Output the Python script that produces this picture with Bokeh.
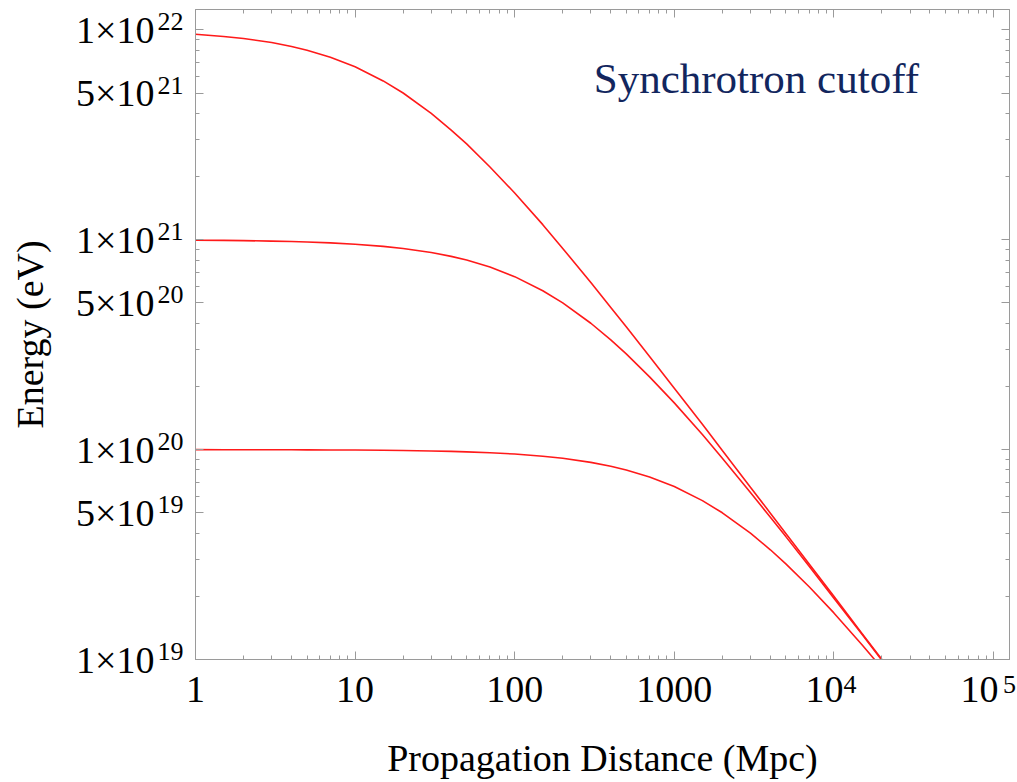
import math
from bokeh.plotting import figure
from bokeh.models import (FixedTicker, CustomJSTickFormatter, LogAxis, Label,
                          Range1d, LogScale)
from bokeh.embed import file_html
from bokeh.resources import INLINE

# ---- data ----
distance_mpc = [1.0, 1.5, 2.0, 3.0, 4.0, 5.0, 7.0, 10.0, 15.0, 20.0, 30.0,
                40.0, 50.0, 70.0, 100.0, 150.0, 200.0, 300.0, 400.0, 500.0,
                700.0, 1000.0, 1500.0, 2000.0, 3000.0, 4000.0, 5000.0, 7000.0,
                10000.0, 15000.0, 20000.0]

energy_e22 = [9.52e21, 9.30e21, 9.09e21, 8.70e21, 8.33e21, 8.00e21, 7.41e21,
              6.67e21, 5.71e21, 5.00e21, 4.00e21, 3.33e21, 2.86e21, 2.22e21,
              1.67e21, 1.18e21, 9.09e20, 6.25e20, 4.76e20, 3.85e20, 2.78e20,
              1.96e20, 1.32e20, 9.90e19, 6.62e19, 4.98e19, 3.98e19, 2.85e19,
              2.00e19, 1.33e19, 1.00e19]

energy_e21 = [9.95e20, 9.93e20, 9.90e20, 9.85e20, 9.80e20, 9.76e20, 9.66e20,
              9.52e20, 9.30e20, 9.09e20, 8.70e20, 8.33e20, 8.00e20, 7.41e20,
              6.67e20, 5.71e20, 5.00e20, 4.00e20, 3.33e20, 2.86e20, 2.22e20,
              1.67e20, 1.18e20, 9.09e19, 6.25e19, 4.76e19, 3.85e19, 2.78e19,
              1.96e19, 1.32e19, 9.90e18]

energy_e20 = [9.995e19, 9.993e19, 9.990e19, 9.985e19, 9.980e19, 9.975e19,
              9.965e19, 9.950e19, 9.926e19, 9.901e19, 9.852e19, 9.804e19,
              9.756e19, 9.662e19, 9.524e19, 9.302e19, 9.091e19, 8.696e19,
              8.333e19, 8.000e19, 7.407e19, 6.667e19, 5.714e19, 5.000e19,
              4.000e19, 3.333e19, 2.857e19, 2.222e19, 1.667e19, 1.176e19,
              9.09e18]

x_major_ticks = [1.0, 10.0, 100.0, 1000.0, 1e4, 1e5]
x_power_ticks = [1e4, 1e5]
x_minor_ticks = [m * 10.0 ** k for k in range(0, 5) for m in range(2, 10)]
y_major_ticks = [1e19, 5e19, 1e20, 5e20, 1e21, 5e21, 1e22]
y_minor_ticks = [m * 10.0 ** k for k in range(19, 22) for m in (2, 3, 4, 6, 7, 8, 9)]

x_axis_title = "Propagation Distance (Mpc)"
y_axis_title = "Energy (eV)"
annotation_text = "Synchrotron cutoff"

SERIF = "Liberation Serif"
GRAY = "#9a9a9a"
BASE_FS = "38px"
SUP_FS = "26px"

x_lo, x_hi = 1.0, 1.26e5
y_lo, y_hi = 1e19, 1.25e22

# small pixel shifts for the label-only axes (expressed as range factors)
Y_SUP_SHIFT = 10 ** (8 / 209.9)     # exponents raised ~8px
X_SUP_SHIFT = 10 ** (16 / 159.6)    # x exponents moved ~16px right

p = figure(width=1017, height=781, x_axis_type="log", y_axis_type="log",
           x_range=Range1d(x_lo, x_hi), y_range=Range1d(y_lo, y_hi),
           output_backend="svg", toolbar_location=None,
           min_border_left=195, min_border_right=8, min_border_top=9,
           min_border_bottom=122)
p.extra_y_ranges = {"ysup": Range1d(y_lo / Y_SUP_SHIFT, y_hi / Y_SUP_SHIFT)}
p.extra_y_scales = {"ysup": LogScale()}
p.extra_x_ranges = {"xsup": Range1d(x_lo / X_SUP_SHIFT, x_hi / X_SUP_SHIFT)}
p.extra_x_scales = {"xsup": LogScale()}

p.background_fill_color = "white"
p.border_fill_color = "white"
p.outline_line_color = GRAY
p.xgrid.visible = False
p.ygrid.visible = False

y_base_fmt = CustomJSTickFormatter(code="""
const e = Math.floor(Math.log10(tick) + 1e-9);
const m = Math.round(tick / Math.pow(10, e));
return m + '\\u00d710';
""")
y_sup_fmt = CustomJSTickFormatter(code="""
return String(Math.floor(Math.log10(tick) + 1e-9));
""")
x_base_fmt = CustomJSTickFormatter(code="""
if (tick < 9999) { return String(Math.round(tick)); }
return '10\\u2002';
""")
x_sup_fmt = CustomJSTickFormatter(code="""
return String(Math.round(Math.log10(tick)));
""")


def tick_axis(ax, ticks, minor):
    ax.ticker = FixedTicker(ticks=ticks, minor_ticks=minor)
    ax.axis_line_color = GRAY
    ax.major_tick_line_color = GRAY
    ax.minor_tick_line_color = GRAY
    ax.major_tick_in = 8
    ax.major_tick_out = 0
    ax.minor_tick_in = 4
    ax.minor_tick_out = 0
    ax.major_label_text_font_size = "1px"
    ax.major_label_text_alpha = 0
    ax.major_label_standoff = 0


def label_axis(ax, ticks, fmt, size, standoff):
    ax.ticker = FixedTicker(ticks=ticks)
    ax.formatter = fmt
    ax.axis_line_color = None
    ax.major_tick_line_color = None
    ax.minor_tick_line_color = None
    ax.major_tick_in = 0
    ax.major_tick_out = 0
    ax.minor_tick_in = 0
    ax.minor_tick_out = 0
    ax.major_label_text_font = SERIF
    ax.major_label_text_font_size = size
    ax.major_label_text_color = "black"
    ax.major_label_standoff = standoff
    ax.axis_label_text_font = SERIF
    ax.axis_label_text_font_size = BASE_FS
    ax.axis_label_text_font_style = "normal"
    ax.axis_label_text_color = "black"


# tick-only axes on all four sides
tick_axis(p.xaxis[0], x_major_ticks, x_minor_ticks)
tick_axis(p.yaxis[0], y_major_ticks, y_minor_ticks)
top = LogAxis()
tick_axis(top, x_major_ticks, x_minor_ticks)
p.add_layout(top, "above")
right = LogAxis()
tick_axis(right, y_major_ticks, y_minor_ticks)
p.add_layout(right, "right")

# y labels: exponent axis (inner) then mantissa axis (outer)
y_sup = LogAxis(y_range_name="ysup")
label_axis(y_sup, y_major_ticks, y_sup_fmt, SUP_FS, 12)
p.add_layout(y_sup, "left")
y_base = LogAxis()
label_axis(y_base, y_major_ticks, y_base_fmt, BASE_FS, 0)
y_base.axis_label = y_axis_title
y_base.axis_label_standoff = 22
p.add_layout(y_base, "left")

# x labels: numbers (inner) then raised exponents (outer, pulled back up)
x_base = LogAxis()
label_axis(x_base, x_major_ticks, x_base_fmt, BASE_FS, 8)
p.add_layout(x_base, "below")
x_sup = LogAxis(x_range_name="xsup")
label_axis(x_sup, x_power_ticks, x_sup_fmt, SUP_FS, -37)
x_sup.axis_label = x_axis_title
x_sup.axis_label_standoff = 41
p.add_layout(x_sup, "below")

for ys in (energy_e22, energy_e21, energy_e20):
    p.line(distance_mpc, ys, line_color="#ff1a1a", line_width=1.6)

p.add_layout(Label(x=313.0, y=5.84e21, text=annotation_text, text_font=SERIF,
                   text_font_size="43px", text_color="#12265e",
                   text_baseline="middle", text_align="left"))

open("out.html", "w").write(file_html(p, INLINE))
